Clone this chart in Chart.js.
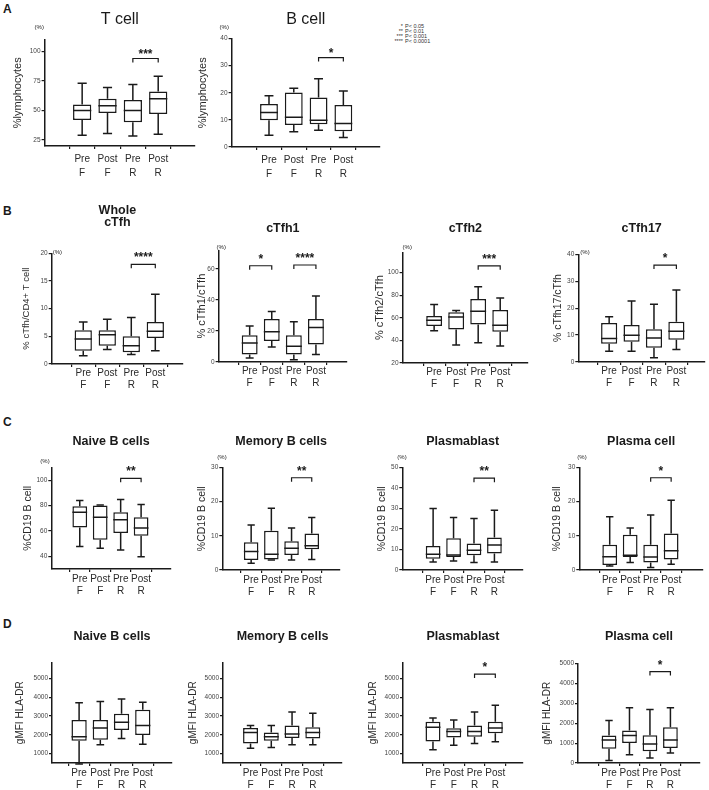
<!DOCTYPE html>
<html>
<head>
<meta charset="utf-8">
<script src="https://cdn.jsdelivr.net/npm/chart.js@4"></script>
<style>
  body { margin: 0; width: 709px; height: 790px; background: #fff; position: relative; overflow: hidden;
         font-family: Arial, "Liberation Sans", Helvetica, sans-serif; color: #1a1a1a; }
  canvas { position: absolute; }
  .letter { position: absolute; font-weight: bold; font-size: 12px; }
  #pkey { position: absolute; left: 384px; top: 24px; font-size: 5.5px; line-height: 5px; color: #333; }
  #pkey span { display: inline-block; width: 19px; text-align: right; margin-right: 2px; }
</style>
</head>
<body>
<div class="letter" style="left:3px;top:2px">A</div>
<div class="letter" style="left:3px;top:204px">B</div>
<div class="letter" style="left:3px;top:415px">C</div>
<div class="letter" style="left:3px;top:617px">D</div>
<div id="pkey">
  <div><span>*</span>P&lt; 0.05</div>
  <div><span>**</span>P&lt; 0.01</div>
  <div><span>***</span>P&lt; 0.001</div>
  <div><span>****</span>P&lt; 0.0001</div>
</div>

<script>
const groups = [['Pre', 'F'], ['Post', 'F'], ['Pre', 'R'], ['Post', 'R']];

// each row: [min, q1, median, q3, max] for Pre F, Post F, Pre R, Post R
const tCell = [[29, 42, 50, 55, 73], [30.5, 48, 54, 60, 69.5], [28.5, 40, 50, 59, 72], [30, 47, 60, 66, 79]];
const bCell = [[4.3, 9.9, 12.7, 15.9, 18.9], [5.6, 8.1, 11, 20.1, 21.7], [6.2, 8.4, 9.9, 18.3, 25.2], [3.5, 5.8, 8.7, 15.5, 20.7]];
const wholeTfh = [[1.5, 2.4, 4.5, 6.1, 7.6], [2.6, 3.3, 5.3, 6.1, 8.1], [1.7, 2.1, 3.3, 5.0, 8.4], [2.4, 4.7, 5.9, 7.6, 12.6]];
const tfh1 = [[2.6, 4.8, 12.3, 17.3, 23.2], [9.7, 13.6, 19.5, 27.7, 32.5], [1.5, 4.8, 10.2, 17.3, 26], [4.8, 11.3, 22.3, 27.7, 42.6]];
const tfh2 = [[48.5, 52.8, 57.8, 61.6, 71.7], [36, 49.7, 60.7, 65, 66.5], [38, 54, 65.9, 76.7, 87.4], [35.1, 47.6, 53.4, 67, 77.6]];
const tfh17 = [[4, 6.8, 8.7, 14.5, 16.8], [4, 7.5, 9.9, 13.7, 22.6], [1.6, 5.3, 8.9, 12.2, 21.4], [4.6, 8.3, 11.4, 14.9, 26.7]];
const naiveC = [[47.7, 62.8, 74.7, 79.5, 84], [46.4, 53, 70.8, 80, 80.5], [45, 58.3, 68.9, 74.7, 84.8], [39.7, 56.2, 62.3, 70.8, 80.8]];
const memoryC = [[2, 2.9, 5.4, 8.1, 13.2], [2.9, 3.1, 4.6, 11.5, 18.1], [2.9, 4.4, 6.4, 8.4, 12.3], [3.1, 6.1, 7.1, 10.7, 15.4]];
const blastC = [[3.9, 5.5, 7.7, 11.7, 30], [4.4, 6.4, 7.3, 15.5, 25.6], [3.6, 7.2, 9.6, 12.9, 25.1], [3.9, 8, 12.2, 15.8, 29.2]];
const plasmaC = [[1.2, 1.5, 3.9, 7.4, 15.6], [2.2, 3.8, 4.3, 10.3, 12.3], [0.7, 2.2, 3.8, 7.4, 16.1], [1.7, 3.1, 5.6, 10.7, 20.4]];
const naiveD = [[450, 1680, 1900, 2790, 3710], [1470, 1740, 2360, 2790, 3780], [1810, 2260, 2670, 3120, 3910], [1500, 1990, 2490, 3330, 3740]];
const memoryD = [[1290, 1540, 2130, 2360, 2490], [1320, 1680, 1900, 2130, 2490], [1470, 1830, 2040, 2490, 3210], [1470, 1810, 2130, 2400, 3150]];
const blastD = [[1200, 1650, 2400, 2700, 2900], [1450, 1860, 2180, 2350, 2790], [1540, 1900, 2180, 2490, 3210], [1630, 2080, 2360, 2700, 3570]];
const plasmaD = [[120, 720, 1150, 1380, 2140], [420, 1010, 1380, 1630, 2780], [250, 590, 960, 1400, 2690], [500, 760, 1150, 1800, 2780]];

// y tick labels
const tCellTicks = [25, 50, 75, 100];
const bCellTicks = [0, 10, 20, 30, 40];
const wholeTicks = [0, 5, 10, 15, 20];
const tfh1Ticks = [0, 20, 40, 60];
const tfh2Ticks = [20, 40, 60, 80, 100];
const tfh17Ticks = [0, 10, 20, 30, 40];
const naiveCTicks = [40, 60, 80, 100];
const tenthsTicks = [0, 10, 20, 30];
const blastCTicks = [0, 10, 20, 30, 40, 50];
const mfiTicks = [1000, 2000, 3000, 4000, 5000];
const mfiZeroTicks = [0, 1000, 2000, 3000, 4000, 5000];

// significance brackets: [from group, to group, level, stars]
const tCellSig = [[2, 3, 94, '***']];
const bCellSig = [[2, 3, 33, '*']];
const wholeSig = [[2, 3, 18, '****']];
const tfh1Sig = [[0, 1, 62, '*'], [2, 3, 62.5, '****']];
const tfh2Sig = [[2, 3, 106, '***']];
const tfh17Sig = [[2, 3, 36, '*']];
const naiveCSig = [[2, 3, 101.5, '**']];
const memoryCSig = [[2, 3, 27, '**']];
const blastCSig = [[2, 3, 44.8, '**']];
const plasmaCSig = [[2, 3, 27, '*']];
const blastDSig = [[2, 3, 5233, '*']];
const plasmaDSig = [[2, 3, 4596, '*']];

const ink = '#1a1a1a';
const fontFamily = 'Arial, "Liberation Sans", Helvetica, sans-serif';
Chart.defaults.font.family = fontFamily;
Chart.defaults.color = ink;

// where each panel sits on the page (plot edges L R T B)
const rowA = { tSize: 16, tBold: false, tLh: 1.2, tY: 20, xPad: 3, xLh: 1.4, starGap: 1 };
const rowB = { tSize: 12.5, tBold: true, tLh: 1.0, tY: 228, xPad: 0, xLh: 1.2, starGap: 3 };
const rowC = { tSize: 12.5, tBold: true, tLh: 1.2, tY: 441, xPad: 1, xLh: 1.2, starGap: 3 };
const rowD = { tSize: 12.5, tBold: true, tLh: 1.2, tY: 636, xPad: 1, xLh: 1.2, starGap: 3 };

const panels = [
  { ...rowA, box: tCell, ticks: tCellTicks, sig: tCellSig, title: ['T cell'], yTitle: '%lymphocytes', yTX: 18, ySize: 11,
    L: 45, R: 195, T: 40, B: 146, yMin: 20, yMax: 110, xMin: -0.74, xMax: 3.71, pct: [-10, -12] },
  { ...rowA, box: bCell, ticks: bCellTicks, sig: bCellSig, title: ['B cell'], yTitle: '%lymphocytes', yTX: 203, ySize: 11,
    L: 232, R: 380, T: 39, B: 147, yMin: 0, yMax: 40, xMin: -0.76, xMax: 3.73, pct: [-12, -11] },
  { ...rowB, tY: 210, box: wholeTfh, ticks: wholeTicks, sig: wholeSig, title: ['Whole', 'cTfh'], yTitle: '% cTfh/CD4+ T cell', yTX: 27, ySize: 9.5,
    L: 52, R: 183, T: 253, B: 364, yMin: 0, yMax: 20, xMin: -0.63, xMax: 3.47, pct: [1, -1] },
  { ...rowB, box: tfh1, ticks: tfh1Ticks, sig: tfh1Sig, title: ['cTfh1'], yTitle: '% cTfh1/cTfh', yTX: 202, ySize: 11,
    L: 219, R: 347, T: 250, B: 362, yMin: 0, yMax: 72, xMin: -0.68, xMax: 3.68, pct: [-2, -3] },
  { ...rowB, box: tfh2, ticks: tfh2Ticks, sig: tfh2Sig, title: ['cTfh2'], yTitle: '% cTfh2/cTfh', yTX: 380, ySize: 11,
    L: 403, R: 528, T: 252, B: 363, yMin: 20, yMax: 118, xMin: -0.72, xMax: 3.55, pct: [0, -5] },
  { ...rowB, box: tfh17, ticks: tfh17Ticks, sig: tfh17Sig, title: ['cTfh17'], yTitle: '% cTfh17/cTfh', yTX: 558, ySize: 10.5,
    L: 578, R: 705, T: 254, B: 362, yMin: 0, yMax: 40, xMin: -0.67, xMax: 3.57, pct: [2, -2] },
  { ...rowC, box: naiveC, ticks: naiveCTicks, sig: naiveCSig, title: ['Naive B cells'], yTitle: '%CD19 B cell', yTX: 28, ySize: 10.5,
    L: 51, R: 171, T: 467, B: 568, yMin: 30, yMax: 110, xMin: -0.66, xMax: 3.73, pct: [-11, -6] },
  { ...rowC, box: memoryC, ticks: tenthsTicks, sig: memoryCSig, title: ['Memory B cells'], yTitle: '%CD19 B cell', yTX: 202, ySize: 10.5,
    L: 222, R: 340, T: 467, B: 569, yMin: 0, yMax: 30, xMin: -0.7, xMax: 3.67, pct: [-5, -10] },
  { ...rowC, box: blastC, ticks: blastCTicks, sig: blastCSig, title: ['Plasmablast'], yTitle: '%CD19 B cell', yTX: 382, ySize: 10.5,
    L: 402, R: 523, T: 467, B: 569, yMin: 0, yMax: 50, xMin: -0.77, xMax: 3.66, pct: [-5, -10] },
  { ...rowC, box: plasmaC, ticks: tenthsTicks, sig: plasmaCSig, title: ['Plasma cell'], yTitle: '%CD19 B cell', yTX: 557, ySize: 10.5,
    L: 579, R: 703, T: 467, B: 569, yMin: 0, yMax: 30, xMin: -0.73, xMax: 3.8, pct: [-2, -10] },
  { ...rowD, box: naiveD, ticks: mfiTicks, sig: [], title: ['Naive B cells'], yTitle: 'gMFI HLA-DR', yTX: 20, ySize: 10,
    L: 52, R: 172, T: 662, B: 762, yMin: 500, yMax: 5850, xMin: -0.57, xMax: 3.67, pct: null },
  { ...rowD, box: memoryD, ticks: mfiTicks, sig: [], title: ['Memory B cells'], yTitle: 'gMFI HLA-DR', yTX: 193, ySize: 10,
    L: 223, R: 342, T: 662, B: 762, yMin: 500, yMax: 5850, xMin: -0.61, xMax: 3.69, pct: null },
  { ...rowD, box: blastD, ticks: mfiTicks, sig: blastDSig, title: ['Plasmablast'], yTitle: 'gMFI HLA-DR', yTX: 373, ySize: 10,
    L: 403, R: 523, T: 662, B: 762, yMin: 500, yMax: 5850, xMin: -0.72, xMax: 3.61, pct: null },
  { ...rowD, box: plasmaD, ticks: mfiZeroTicks, sig: plasmaDSig, title: ['Plasma cell'], yTitle: 'gMFI HLA-DR', yTX: 547, ySize: 10,
    L: 578, R: 700, T: 663, B: 762, yMin: 0, yMax: 5000, xMin: -0.77, xMax: 3.7, pct: null }
];

// whiskers, medians, brackets and the (%) mark
function boxParts(p) {
  return {
    id: 'boxParts',
    afterDatasetsDraw(chart) {
      const { ctx, chartArea, scales: { x, y } } = chart;
      const bars = chart.getDatasetMeta(0).data;
      ctx.save();
      ctx.strokeStyle = ink;
      ctx.fillStyle = ink;
      ctx.lineWidth = 1.5;
      p.box.forEach((d, i) => {
        const cx = bars[i].x, half = bars[i].width / 2, cap = half * 0.5;
        const [lo, q1, md, q3, hi] = d.map(v => y.getPixelForValue(v));
        ctx.beginPath();
        ctx.moveTo(cx, q3); ctx.lineTo(cx, hi);
        ctx.moveTo(cx - cap, hi); ctx.lineTo(cx + cap, hi);
        ctx.moveTo(cx, q1); ctx.lineTo(cx, lo);
        ctx.moveTo(cx - cap, lo); ctx.lineTo(cx + cap, lo);
        ctx.moveTo(cx - half, md); ctx.lineTo(cx + half, md);
        ctx.stroke();
      });
      ctx.lineWidth = 1.2;
      ctx.textAlign = 'center';
      ctx.textBaseline = 'alphabetic';
      ctx.font = 'bold 12px ' + fontFamily;
      p.sig.forEach(([a, b, v, stars]) => {
        const xa = x.getPixelForValue(a), xb = x.getPixelForValue(b), yy = y.getPixelForValue(v);
        ctx.beginPath();
        ctx.moveTo(xa, yy + 4); ctx.lineTo(xa, yy); ctx.lineTo(xb, yy); ctx.lineTo(xb, yy + 4);
        ctx.stroke();
        ctx.fillText(stars, (xa + xb) / 2, yy - p.starGap);
      });
      if (p.pct) {
        ctx.font = '6px ' + fontFamily;
        ctx.textAlign = 'left';
        ctx.textBaseline = 'middle';
        ctx.fillText('(%)', chartArea.left + p.pct[0], chartArea.top + p.pct[1]);
      }
      ctx.restore();
    }
  };
}

panels.forEach(p => {
  const tLine = p.tSize * p.tLh;
  const yLine = p.ySize * 1.2;
  const left = p.yTX - yLine / 2;
  const top = p.tY - tLine / 2;
  const xHeight = 3 + p.xPad + 2 * 10 * p.xLh + 2;
  const canvas = document.createElement('canvas');
  canvas.width = Math.round(p.R + 5 - left);
  canvas.height = Math.round(p.B + xHeight - top);
  canvas.style.left = left + 'px';
  canvas.style.top = top + 'px';
  document.body.appendChild(canvas);

  new Chart(canvas, {
    type: 'bar',
    data: {
      datasets: [{
        data: p.box.map((d, i) => ({ x: i, y: [d[1], d[3]] })),
        backgroundColor: '#fff',
        borderColor: ink,
        borderWidth: 1.5,
        borderSkipped: false,
        categoryPercentage: 1,
        barPercentage: 0.72
      }]
    },
    options: {
      responsive: false,
      animation: false,
      layout: { padding: { left: 0, top: 0, right: 5, bottom: 0 } },
      plugins: {
        legend: { display: false },
        tooltip: { enabled: false },
        title: {
          display: true,
          text: p.title,
          fullSize: false,
          color: ink,
          font: { size: p.tSize, weight: p.tBold ? 'bold' : 'normal', lineHeight: p.tLh },
          padding: { top: 0, bottom: p.T - top - p.title.length * tLine }
        }
      },
      scales: {
        x: {
          type: 'linear',
          min: p.xMin,
          max: p.xMax,
          afterBuildTicks: s => { s.ticks = groups.map((g, i) => ({ value: i })); },
          afterFit: s => { s.height = xHeight; },
          grid: { drawOnChartArea: false, tickLength: 3, color: ink, lineWidth: 1.2 },
          border: { color: ink, width: 1.5 },
          ticks: {
            autoSkip: false,
            maxRotation: 0,
            padding: p.xPad,
            color: '#2a2a2a',
            font: { size: 10, lineHeight: p.xLh },
            callback: v => groups[v]
          }
        },
        y: {
          min: p.yMin,
          max: p.yMax,
          afterBuildTicks: s => { s.ticks = p.ticks.map(v => ({ value: v })); },
          afterFit: s => { s.width = p.L - left; },
          grid: { drawOnChartArea: false, tickLength: 3, color: ink, lineWidth: 1.2 },
          border: { color: ink, width: 1.5 },
          ticks: { padding: 1, color: '#444', font: { size: 6.5 }, callback: v => String(v) },
          title: {
            display: true,
            text: p.yTitle,
            color: '#2a2a2a',
            padding: 0,
            font: { size: p.ySize, lineHeight: 1.2 }
          }
        }
      }
    },
    plugins: [boxParts(p)]
  });
});
</script>
</body>
</html>
